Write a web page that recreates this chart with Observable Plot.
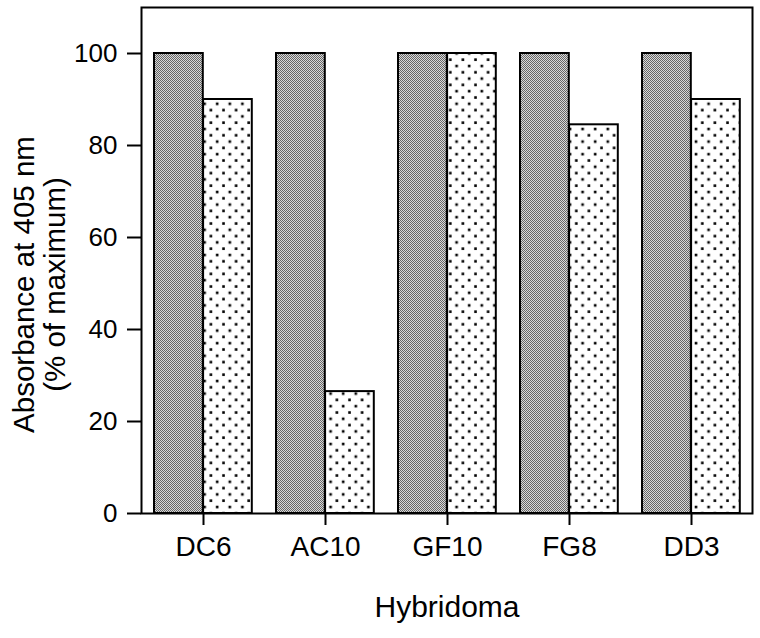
<!DOCTYPE html>
<html>
<head>
<meta charset="utf-8">
<script src="https://cdn.jsdelivr.net/npm/d3@7"></script>
<script src="https://cdn.jsdelivr.net/npm/@observablehq/plot@0.6"></script>
<style>
  html, body { margin: 0; padding: 0; background: #fff; }
</style>
</head>
<body>
<div id="chart"></div>
<script>
const categories = ["DC6", "AC10", "GF10", "FG8", "DD3"];
const darkValues = [100, 100, 100, 100, 100];
const dottedValues = [90, 26.5, 100, 84.5, 90];
const yTicks = [0, 20, 40, 60, 80, 100];
const yTitle = "Absorbance at 405 nm\n(% of maximum)";
const xTitle = "Hybridoma";

const darkData = categories.map((c, i) => ({category: c, value: darkValues[i]}));
const dottedData = categories.map((c, i) => ({category: c, value: dottedValues[i]}));

const NS = "http://www.w3.org/2000/svg";
function defsMark() {
  const defs = document.createElementNS(NS, "defs");
  const p1 = document.createElementNS(NS, "pattern");
  p1.setAttribute("id", "halftone");
  p1.setAttribute("patternUnits", "userSpaceOnUse");
  p1.setAttribute("width", 2);
  p1.setAttribute("height", 2);
  const bg = document.createElementNS(NS, "rect");
  bg.setAttribute("width", 2); bg.setAttribute("height", 2); bg.setAttribute("fill", "#d9d9d9");
  p1.appendChild(bg);
  for (const [x, y] of [[0, 0], [1, 1]]) {
    const r = document.createElementNS(NS, "rect");
    r.setAttribute("x", x); r.setAttribute("y", y);
    r.setAttribute("width", 1); r.setAttribute("height", 1);
    r.setAttribute("fill", "#666");
    p1.appendChild(r);
  }
  defs.appendChild(p1);
  const p2 = document.createElementNS(NS, "pattern");
  p2.setAttribute("id", "dots");
  p2.setAttribute("patternUnits", "userSpaceOnUse");
  p2.setAttribute("width", 12.6);
  p2.setAttribute("height", 12.6);
  const bg2 = document.createElementNS(NS, "rect");
  bg2.setAttribute("width", 12.6); bg2.setAttribute("height", 12.6); bg2.setAttribute("fill", "#fff");
  p2.appendChild(bg2);
  for (const [x, y] of [[3, 3], [9.3, 9.3]]) {
    const c = document.createElementNS(NS, "rect");
    c.setAttribute("x", x - 1.3); c.setAttribute("y", y - 1.3);
    c.setAttribute("width", 2.6); c.setAttribute("height", 2.6);
    c.setAttribute("fill", "#000");
    p2.appendChild(c);
  }
  defs.appendChild(p2);
  return defs;
}

const chart = Plot.plot({
  width: 760,
  height: 638,
  marginLeft: 141,
  marginRight: 8,
  marginTop: 7,
  marginBottom: 125,
  style: {fontFamily: "'Liberation Sans', Arial, Helvetica, sans-serif", background: "#fff", color: "#000"},
  x: {domain: categories, padding: 0, label: null},
  y: {domain: [0, 110], label: null},
  marks: [
    defsMark,
    Plot.barY(darkData, {x: "category", y: "value", fill: "url(#halftone)", stroke: "#000", strokeWidth: 2, insetLeft: 12, insetRight: 61.2}),
    Plot.barY(dottedData, {x: "category", y: "value", fill: "url(#dots)", stroke: "#000", strokeWidth: 2, insetLeft: 61.1, insetRight: 12.2}),
    Plot.frame({stroke: "#000", strokeWidth: 2}),
    Plot.axisY({ticks: yTicks, tickSize: 14, tickPadding: 10, fontSize: 26, strokeWidth: 2, label: null, tickFormat: d => String(d)}),
    Plot.axisX({tickSize: 12, tickPadding: 11, fontSize: 28, strokeWidth: 2, label: null}),
    Plot.text([yTitle], {frameAnchor: "left", text: d => d, rotate: -90, dx: -102.3, dy: 24, fontSize: 29.5, lineHeight: 1.05, textAnchor: "middle", fill: "#000"}),
    Plot.text([xTitle], {frameAnchor: "bottom", text: d => d, dy: 103, fontSize: 30, fill: "#000"})
  ]
});
document.getElementById("chart").appendChild(chart);
</script>
</body>
</html>
